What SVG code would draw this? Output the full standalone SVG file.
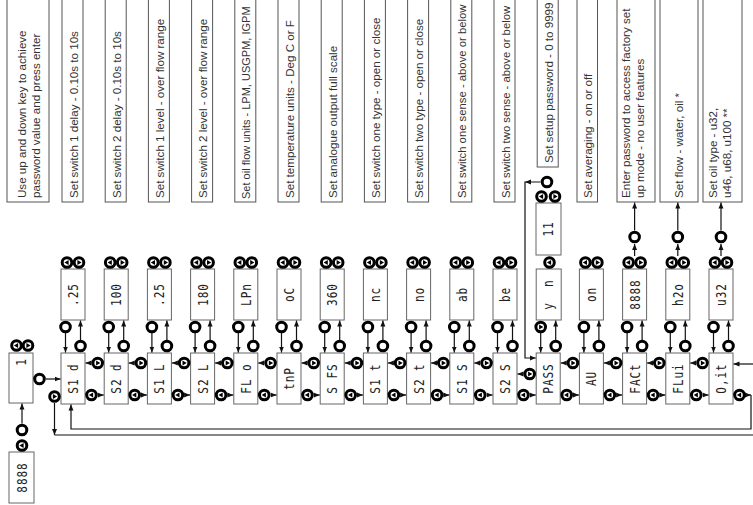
<svg xmlns="http://www.w3.org/2000/svg" xmlns:xlink="http://www.w3.org/1999/xlink" width="753" height="505" viewBox="0 0 753 505">
<style>
.tb{fill:#fff;stroke:#555;stroke-width:1}
.t{font-family:"Liberation Sans",Arial,sans-serif;font-size:11.6px;fill:#333}
.tl{font-size:11.3px}
.ts{font-size:11px}
.db{fill:#fff;stroke:#666;stroke-width:1}
.seg{font-family:"DejaVu Sans Mono","Liberation Mono",monospace;font-size:11px;fill:#222;text-anchor:middle;letter-spacing:1px}
.ln{stroke:#111;stroke-width:1.2;fill:none}
.ar{marker-end:url(#ah)}
.ring{fill:#fff;stroke:#000;stroke-width:3}
</style>
<defs>
<marker id="ah" viewBox="0 0 6 6" refX="6" refY="3" markerWidth="6" markerHeight="6" markerUnits="userSpaceOnUse" orient="auto"><path d="M0,0.5 L6,3 L0,5.5z" fill="#111"/></marker>
<g id="bo"><circle class="ring" r="4.8"/></g>
<g id="bl"><circle class="ring" r="4.8"/><path d="M-2.6,0 L1.6,-2.6 L1.6,2.6z" fill="#000"/></g>
<g id="br"><circle class="ring" r="4.8"/><path d="M2.6,0 L-1.6,-2.6 L-1.6,2.6z" fill="#000"/></g>
</defs>
<rect width="753" height="505" fill="#fff"/>

<!-- top description boxes -->
<g id="notes">
<g id="note0"><rect class="tb" x="7" y="-2" width="42" height="204"/><text class="t" transform="translate(26,198) rotate(-90)">Use up and down key to achieve</text><text class="t" transform="translate(40,198) rotate(-90)">password value and press enter</text></g>
<g id="note1"><rect class="tb" x="62" y="-2" width="21" height="204"/><text class="t" transform="translate(77.5,198) rotate(-90)">Set switch 1 delay - 0.10s to 10s</text></g>
<g id="note2"><rect class="tb" x="105.2" y="-2" width="21" height="204"/><text class="t" transform="translate(120.7,198) rotate(-90)">Set switch 2 delay - 0.10s to 10s</text></g>
<g id="note3"><rect class="tb" x="148.4" y="-2" width="21" height="204"/><text class="t" transform="translate(163.9,198) rotate(-90)">Set switch 1 level - over flow range</text></g>
<g id="note4"><rect class="tb" x="191.6" y="-2" width="21" height="204"/><text class="t" transform="translate(207.1,198) rotate(-90)">Set switch 2 level - over flow range</text></g>
<g id="note5"><rect class="tb" x="234.8" y="-2" width="21" height="204"/><text class="t ts" transform="translate(250,199) rotate(-90)">Set oil flow units - LPM, USGPM, IGPM</text></g>
<g id="note6"><rect class="tb" x="278" y="-2" width="21" height="204"/><text class="t" transform="translate(293.5,198) rotate(-90)">Set temperature units - Deg C or F</text></g>
<g id="note7"><rect class="tb" x="321.2" y="-2" width="21" height="204"/><text class="t" transform="translate(336.7,198) rotate(-90)">Set analogue output full scale</text></g>
<g id="note8"><rect class="tb" x="364.4" y="-2" width="21" height="204"/><text class="t" transform="translate(379.9,198) rotate(-90)">Set switch one type - open or close</text></g>
<g id="note9"><rect class="tb" x="407.6" y="-2" width="21" height="204"/><text class="t" transform="translate(423.1,198) rotate(-90)">Set switch two type - open or close</text></g>
<g id="note10"><rect class="tb" x="450.8" y="-2" width="21" height="204"/><text class="t tl" transform="translate(466.3,198) rotate(-90)">Set switch one sense - above or below</text></g>
<g id="note11"><rect class="tb" x="494" y="-2" width="21" height="204"/><text class="t tl" transform="translate(509.5,198) rotate(-90)">Set switch two sense - above or below</text></g>
<g id="note12"><rect class="tb" x="537.2" y="-2" width="21" height="169"/><text class="t" transform="translate(552.7,163) rotate(-90)">Set setup password - 0 to 9999</text></g>
<g id="note13"><rect class="tb" x="577" y="-2" width="20.5" height="204"/><text class="t" transform="translate(591.5,198) rotate(-90)">Set averaging - on or off</text></g>
<g id="note14"><rect class="tb" x="617" y="-2" width="38" height="204"/><text class="t" transform="translate(629.5,198) rotate(-90)">Enter password to access factory set</text><text class="t" transform="translate(643.5,198) rotate(-90)">up mode - no user features</text></g>
<g id="note15"><rect class="tb" x="660" y="-2" width="38" height="204"/><text class="t" transform="translate(683,198) rotate(-90)">Set flow - water, oil *</text></g>
<g id="note16"><rect class="tb" x="703" y="-2" width="39" height="204"/><text class="t" transform="translate(717,198) rotate(-90)">Set oil type - u32,</text><text class="t" transform="translate(731,198) rotate(-90)">u46, u68, u100 **</text></g>
</g>

<!-- value displays -->
<g id="values">
<g id="val0"><rect class="db" x="9" y="452" width="25" height="51"/><text class="seg" transform="translate(26.5,477.5) rotate(-90) scale(1,1.25)">8888</text></g>
<g id="val1"><rect class="db" x="61" y="269" width="24" height="51"/><text class="seg" transform="translate(78,294.5) rotate(-90) scale(1,1.25)">.25</text></g>
<g id="val2"><rect class="db" x="104.2" y="269" width="24" height="51"/><text class="seg" transform="translate(121.2,294.5) rotate(-90) scale(1,1.25)">100</text></g>
<g id="val3"><rect class="db" x="147.4" y="269" width="24" height="51"/><text class="seg" transform="translate(164.4,294.5) rotate(-90) scale(1,1.25)">.25</text></g>
<g id="val4"><rect class="db" x="190.6" y="269" width="24" height="51"/><text class="seg" transform="translate(207.6,294.5) rotate(-90) scale(1,1.25)">180</text></g>
<g id="val5"><rect class="db" x="233.8" y="269" width="24" height="51"/><text class="seg" transform="translate(250.8,294.5) rotate(-90) scale(1,1.25)">LPn</text></g>
<g id="val6"><rect class="db" x="277" y="269" width="24" height="51"/><text class="seg" transform="translate(294,294.5) rotate(-90) scale(1,1.25)">oC</text></g>
<g id="val7"><rect class="db" x="320.2" y="269" width="24" height="51"/><text class="seg" transform="translate(337.2,294.5) rotate(-90) scale(1,1.25)">360</text></g>
<g id="val8"><rect class="db" x="363.4" y="269" width="24" height="51"/><text class="seg" transform="translate(380.4,294.5) rotate(-90) scale(1,1.25)">nc</text></g>
<g id="val9"><rect class="db" x="406.6" y="269" width="24" height="51"/><text class="seg" transform="translate(423.6,294.5) rotate(-90) scale(1,1.25)">no</text></g>
<g id="val10"><rect class="db" x="449.8" y="269" width="24" height="51"/><text class="seg" transform="translate(466.8,294.5) rotate(-90) scale(1,1.25)">ab</text></g>
<g id="val11"><rect class="db" x="493" y="269" width="24" height="51"/><text class="seg" transform="translate(510,294.5) rotate(-90) scale(1,1.25)">be</text></g>
<g id="val12"><rect class="db" x="536.2" y="269" width="25" height="51"/><text class="seg" xml:space="preserve" transform="translate(553.2,294.5) rotate(-90) scale(1,1.25)">y  n</text></g>
<g id="val12b"><rect class="db" x="536" y="203" width="25" height="52"/><text class="seg" transform="translate(553,229) rotate(-90) scale(1,1.25)">11</text></g>
<g id="val13"><rect class="db" x="579.4" y="269" width="24" height="51"/><text class="seg" transform="translate(596.4,294.5) rotate(-90) scale(1,1.25)">on</text></g>
<g id="val14"><rect class="db" x="622.6" y="269" width="24" height="51"/><text class="seg" transform="translate(639.6,294.5) rotate(-90) scale(1,1.25)">8888</text></g>
<g id="val15"><rect class="db" x="665.8" y="269" width="24" height="51"/><text class="seg" transform="translate(682.8,294.5) rotate(-90) scale(1,1.25)">h2o</text></g>
<g id="val16"><rect class="db" x="709" y="269" width="24" height="51"/><text class="seg" transform="translate(726,294.5) rotate(-90) scale(1,1.25)">u32</text></g>
</g>

<!-- menu displays -->
<g id="menu">
<g id="m0"><rect class="db" x="9" y="353" width="24" height="50"/><text class="seg" transform="translate(26,362) rotate(-90) scale(1,1.25)">1</text></g>
<g id="m1"><rect class="db" x="61" y="353" width="24" height="51"/><text class="seg" transform="translate(78,378.5) rotate(-90) scale(1,1.25)">S1 d</text></g>
<g id="m2"><rect class="db" x="104.2" y="353" width="24" height="51"/><text class="seg" transform="translate(121.2,378.5) rotate(-90) scale(1,1.25)">S2 d</text></g>
<g id="m3"><rect class="db" x="147.4" y="353" width="24" height="51"/><text class="seg" transform="translate(164.4,378.5) rotate(-90) scale(1,1.25)">S1 L</text></g>
<g id="m4"><rect class="db" x="190.6" y="353" width="24" height="51"/><text class="seg" transform="translate(207.6,378.5) rotate(-90) scale(1,1.25)">S2 L</text></g>
<g id="m5"><rect class="db" x="233.8" y="353" width="24" height="51"/><text class="seg" transform="translate(250.8,378.5) rotate(-90) scale(1,1.25)">FL o</text></g>
<g id="m6"><rect class="db" x="277" y="353" width="24" height="51"/><text class="seg" transform="translate(294,378.5) rotate(-90) scale(1,1.25)">tnP</text></g>
<g id="m7"><rect class="db" x="320.2" y="353" width="24" height="51"/><text class="seg" transform="translate(337.2,378.5) rotate(-90) scale(1,1.25)">S FS</text></g>
<g id="m8"><rect class="db" x="363.4" y="353" width="24" height="51"/><text class="seg" transform="translate(380.4,378.5) rotate(-90) scale(1,1.25)">S1 t</text></g>
<g id="m9"><rect class="db" x="406.6" y="353" width="24" height="51"/><text class="seg" transform="translate(423.6,378.5) rotate(-90) scale(1,1.25)">S2 t</text></g>
<g id="m10"><rect class="db" x="449.8" y="353" width="24" height="51"/><text class="seg" transform="translate(466.8,378.5) rotate(-90) scale(1,1.25)">S1 S</text></g>
<g id="m11"><rect class="db" x="493" y="353" width="24" height="51"/><text class="seg" transform="translate(510,378.5) rotate(-90) scale(1,1.25)">S2 S</text></g>
<g id="m12"><rect class="db" x="536.2" y="353" width="24" height="51"/><text class="seg" transform="translate(553.2,378.5) rotate(-90) scale(1,1.25)">PASS</text></g>
<g id="m13"><rect class="db" x="579.4" y="353" width="24" height="51"/><text class="seg" transform="translate(596.4,378.5) rotate(-90) scale(1,1.25)">AU</text></g>
<g id="m14"><rect class="db" x="622.6" y="353" width="24" height="51"/><text class="seg" transform="translate(639.6,378.5) rotate(-90) scale(1,1.25)">FACt</text></g>
<g id="m15"><rect class="db" x="665.8" y="353" width="24" height="51"/><text class="seg" transform="translate(682.8,378.5) rotate(-90) scale(1,1.25)">FLui</text></g>
<g id="m16"><rect class="db" x="709" y="353" width="24" height="51"/><text class="seg" transform="translate(726,378.5) rotate(-90) scale(1,1.25)">O,it</text></g>
</g>

<!-- connectors -->
<g id="connectors" class="ln">
<path class="ar" d="M80.5,340V320.5"/><path class="ar" d="M123.7,340V320.5"/><path class="ar" d="M166.9,340V320.5"/><path class="ar" d="M210.1,340V320.5"/><path class="ar" d="M253.3,340V320.5"/><path class="ar" d="M296.5,340V320.5"/><path class="ar" d="M339.7,340V320.5"/><path class="ar" d="M382.9,340V320.5"/><path class="ar" d="M426.1,340V320.5"/><path class="ar" d="M469.3,340V320.5"/><path class="ar" d="M512.5,340V320.5"/><path class="ar" d="M555.7,340V320.5"/><path class="ar" d="M598.9,340V320.5"/><path class="ar" d="M642.1,340V320.5"/><path class="ar" d="M685.3,340V320.5"/><path class="ar" d="M728.5,340V320.5"/>
<path class="ar" d="M65.5,333V352.5"/><path class="ar" d="M108.7,333V352.5"/><path class="ar" d="M151.9,333V352.5"/><path class="ar" d="M195.1,333V352.5"/><path class="ar" d="M238.3,333V352.5"/><path class="ar" d="M281.5,333V352.5"/><path class="ar" d="M324.7,333V352.5"/><path class="ar" d="M367.9,333V352.5"/><path class="ar" d="M411.1,333V352.5"/><path class="ar" d="M454.3,333V352.5"/><path class="ar" d="M497.5,333V352.5"/><path class="ar" d="M540.7,333V352.5"/><path class="ar" d="M583.9,333V352.5"/><path class="ar" d="M627.1,333V352.5"/><path class="ar" d="M670.3,333V352.5"/><path class="ar" d="M713.5,333V352.5"/>
<path class="ar" d="M91.2,363H85.5"/><path class="ar" d="M134.4,363H128.7"/><path class="ar" d="M177.6,363H171.9"/><path class="ar" d="M220.8,363H215.1"/><path class="ar" d="M264,363H258.3"/><path class="ar" d="M307.2,363H301.5"/><path class="ar" d="M350.4,363H344.7"/><path class="ar" d="M393.6,363H387.9"/><path class="ar" d="M436.8,363H431.1"/><path class="ar" d="M480,363H474.3"/><path class="ar" d="M523.2,374H517.5"/><path class="ar" d="M566.4,363H560.7"/><path class="ar" d="M609.6,363H603.9"/><path class="ar" d="M652.8,363H647.1"/><path class="ar" d="M696,363H690.3"/>
<path class="ar" d="M98,395H103.7"/><path class="ar" d="M141.2,395H146.9"/><path class="ar" d="M184.4,395H190.1"/><path class="ar" d="M227.6,395H233.3"/><path class="ar" d="M270.8,395H276.5"/><path class="ar" d="M314,395H319.7"/><path class="ar" d="M357.2,395H362.9"/><path class="ar" d="M400.4,395H406.1"/><path class="ar" d="M443.6,395H449.3"/><path class="ar" d="M486.8,395H492.5"/><path class="ar" d="M530,395H535.7"/><path class="ar" d="M573.2,395H578.9"/><path class="ar" d="M616.4,395H622.1"/><path class="ar" d="M659.6,395H665.3"/><path class="ar" d="M702.8,395H708.5"/>
<path class="ar" d="M46,379H60.5"/>
<path class="ar" d="M22,423.5V403.5"/>
<path class="ar" d="M54.5,403V435"/>
<path d="M54.5,435H753"/>
<path class="ar" d="M745.8,395H751"/>
<path class="ar" d="M751,395V429H71V404.5"/>
<path class="ar" d="M753,364H733.5"/>
<path class="ar" d="M540.5,182H525V358H535.7"/>
<path d="M525,182l6,-2.6v5.2z" fill="#111" stroke="none"/>
<path class="ar" d="M634.6,256V244"/><path class="ar" d="M634.6,230.5V202.5"/>
<path class="ar" d="M677.8,256V244"/><path class="ar" d="M677.8,230.5V202.5"/>
<path class="ar" d="M721,256V244"/><path class="ar" d="M721,230.5V202.5"/>
</g>

<!-- buttons -->
<g id="buttons">
<use xlink:href="#bl" x="16.5" y="345.5"/><use xlink:href="#br" x="28" y="345.5"/>
<use xlink:href="#bo" x="39.5" y="379"/>
<use xlink:href="#bo" x="22" y="430"/><use xlink:href="#bl" x="22" y="445.5"/>
<use xlink:href="#br" x="54.5" y="396.5"/>
<use xlink:href="#bl" x="67" y="262.5"/><use xlink:href="#br" x="79" y="262.5"/>
<use xlink:href="#bl" x="110.2" y="262.5"/><use xlink:href="#br" x="122.2" y="262.5"/>
<use xlink:href="#bl" x="153.4" y="262.5"/><use xlink:href="#br" x="165.4" y="262.5"/>
<use xlink:href="#bl" x="196.6" y="262.5"/><use xlink:href="#br" x="208.6" y="262.5"/>
<use xlink:href="#bl" x="239.8" y="262.5"/><use xlink:href="#br" x="251.8" y="262.5"/>
<use xlink:href="#bl" x="283" y="262.5"/><use xlink:href="#br" x="295" y="262.5"/>
<use xlink:href="#bl" x="326.2" y="262.5"/><use xlink:href="#br" x="338.2" y="262.5"/>
<use xlink:href="#bl" x="369.4" y="262.5"/><use xlink:href="#br" x="381.4" y="262.5"/>
<use xlink:href="#bl" x="412.6" y="262.5"/><use xlink:href="#br" x="424.6" y="262.5"/>
<use xlink:href="#bl" x="455.8" y="262.5"/><use xlink:href="#br" x="467.8" y="262.5"/>
<use xlink:href="#bl" x="499" y="262.5"/><use xlink:href="#br" x="511" y="262.5"/>
<use xlink:href="#bl" x="549.5" y="262.5"/>
<use xlink:href="#bl" x="585.4" y="262.5"/><use xlink:href="#br" x="597.4" y="262.5"/>
<use xlink:href="#bl" x="628.6" y="262.5"/><use xlink:href="#br" x="640.6" y="262.5"/>
<use xlink:href="#bl" x="671.8" y="262.5"/><use xlink:href="#br" x="683.8" y="262.5"/>
<use xlink:href="#bl" x="715" y="262.5"/><use xlink:href="#br" x="727" y="262.5"/>
<use xlink:href="#bl" x="541.5" y="196.5"/><use xlink:href="#br" x="555" y="196.5"/>
<use xlink:href="#bo" x="547" y="182"/>
<use xlink:href="#bo" x="634.6" y="237"/><use xlink:href="#bo" x="677.8" y="237"/><use xlink:href="#bo" x="721" y="237"/>
<use xlink:href="#bo" x="65.5" y="327"/><use xlink:href="#bo" x="108.7" y="327"/><use xlink:href="#bo" x="151.9" y="327"/><use xlink:href="#bo" x="195.1" y="327"/><use xlink:href="#bo" x="238.3" y="327"/><use xlink:href="#bo" x="281.5" y="327"/><use xlink:href="#bo" x="324.7" y="327"/><use xlink:href="#bo" x="367.9" y="327"/><use xlink:href="#bo" x="411.1" y="327"/><use xlink:href="#bo" x="454.3" y="327"/><use xlink:href="#bo" x="497.5" y="327"/><use xlink:href="#br" x="540.7" y="327"/><use xlink:href="#bo" x="583.9" y="327"/><use xlink:href="#bo" x="627.1" y="327"/><use xlink:href="#bo" x="670.3" y="327"/><use xlink:href="#bo" x="713.5" y="327"/>
<use xlink:href="#bo" x="80.5" y="346"/><use xlink:href="#bo" x="123.7" y="346"/><use xlink:href="#bo" x="166.9" y="346"/><use xlink:href="#bo" x="210.1" y="346"/><use xlink:href="#bo" x="253.3" y="346"/><use xlink:href="#bo" x="296.5" y="346"/><use xlink:href="#bo" x="339.7" y="346"/><use xlink:href="#bo" x="382.9" y="346"/><use xlink:href="#bo" x="426.1" y="346"/><use xlink:href="#bo" x="469.3" y="346"/><use xlink:href="#bo" x="512.5" y="346"/><use xlink:href="#bo" x="555.7" y="346"/><use xlink:href="#bo" x="598.9" y="346"/><use xlink:href="#bo" x="642.1" y="346"/><use xlink:href="#bo" x="685.3" y="346"/><use xlink:href="#bo" x="728.5" y="346"/>
<use xlink:href="#br" x="97.7" y="363"/><use xlink:href="#br" x="140.9" y="363"/><use xlink:href="#br" x="184.1" y="363"/><use xlink:href="#br" x="227.3" y="363"/><use xlink:href="#br" x="270.5" y="363"/><use xlink:href="#br" x="313.7" y="363"/><use xlink:href="#br" x="356.9" y="363"/><use xlink:href="#br" x="400.1" y="363"/><use xlink:href="#br" x="443.3" y="363"/><use xlink:href="#br" x="486.5" y="363"/><use xlink:href="#br" x="529.7" y="374"/><use xlink:href="#br" x="572.9" y="363"/><use xlink:href="#br" x="616.1" y="363"/><use xlink:href="#br" x="659.3" y="363"/><use xlink:href="#br" x="702.5" y="363"/>
<use xlink:href="#bl" x="91.5" y="395"/><use xlink:href="#bl" x="134.7" y="395"/><use xlink:href="#bl" x="177.9" y="395"/><use xlink:href="#bl" x="221.1" y="395"/><use xlink:href="#bl" x="264.3" y="395"/><use xlink:href="#bl" x="307.5" y="395"/><use xlink:href="#bl" x="350.7" y="395"/><use xlink:href="#bl" x="393.9" y="395"/><use xlink:href="#bl" x="437.1" y="395"/><use xlink:href="#bl" x="480.3" y="395"/><use xlink:href="#bl" x="523.5" y="395"/><use xlink:href="#bl" x="566.7" y="395"/><use xlink:href="#bl" x="609.9" y="395"/><use xlink:href="#bl" x="653.1" y="395"/><use xlink:href="#bl" x="696.3" y="395"/><use xlink:href="#bl" x="739.5" y="395"/>
</g>
</svg>
